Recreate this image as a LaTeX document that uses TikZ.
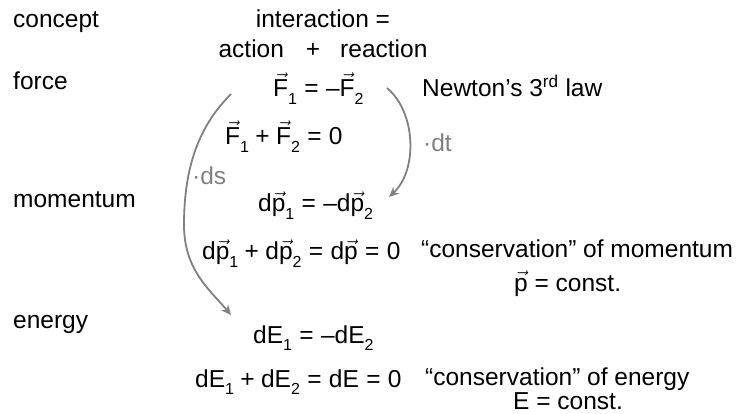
\documentclass[tikz,border=0pt]{standalone}
\usepackage{fontspec}
\setmainfont{Liberation Sans}
\usetikzlibrary{arrows.meta}
\definecolor{arrgray}{RGB}{128,128,128}
\newcommand{\vv}[1]{\smash{\ensuremath{\vec{\mbox{#1}}}}}
\newcommand{\lo}[1]{\raisebox{-0.3em}{\fontsize{16}{16}\selectfont #1}}
\newcommand{\eqq}{\hspace{0.3em}=\hspace{0.3em}}
\newcommand{\pls}{\hspace{0.26em}+\hspace{0.26em}}
\tikzset{
  txt/.style={anchor=base west, inner sep=0pt, font=\fontsize{24.5}{29}\selectfont},
  ctxt/.style={txt, anchor=base},
  lbl/.style={txt, text=arrgray},
  curvearrow/.style={draw=arrgray, line width=1.8pt, -{Stealth[length=10pt,width=9pt]}}
}
\begin{document}
\begin{tikzpicture}[x=1pt,y=-1pt]
\useasboundingbox (0,0) rectangle (742,414);
% left column
\node[txt] (concept) at (13,28) {concept};
\node[txt] (force) at (13,90) {force};
\node[txt] (momentum) at (13,208) {momentum};
\node[txt] (energy) at (13,328) {energy};
% header
\node[ctxt] (inter) at (323,28) {interaction =};
\node[ctxt] (actreact) at (323,58) {action\hspace{22pt}+\hspace{20pt}reaction};
% force
\node[txt] (f1) at (273,97) {\vv{F}\lo{1}\eqq–\vv{F}\lo{2}};
\node[txt] (newton) at (422,97) {Newton’s 3\textsuperscript{rd} law};
\node[txt] (fsum) at (225,145) {\vv{F}\lo{1}\pls\vv{F}\lo{2}\eqq0};
\node[lbl] (dt) at (423,152) {·dt};
\node[lbl] (ds) at (192,185) {·ds};
% momentum
\node[txt] (p1) at (258,212) {d\vv{p}\lo{1}\eqq–d\vv{p}\lo{2}};
\node[txt] (psum) at (202,260) {d\vv{p}\lo{1}\pls d\vv{p}\lo{2}\eqq d\vv{p}\eqq0};
\node[txt] (pcons) at (421,258) {“conservation” of momentum};
\node[txt] (pconst) at (514,291) {\vv{p} = const.};
% energy
\node[txt] (e1) at (253,343) {dE\lo{1}\eqq–dE\lo{2}};
\node[txt] (esum) at (195,387) {dE\lo{1}\pls dE\lo{2}\eqq dE\eqq0};
\node[txt] (econs) at (425,385) {“conservation” of energy};
\node[txt] (econst) at (513,409) {E = const.};
% arrows
\coordinate (dtS) at (387,88);
\coordinate (dtE) at (389,197);
\coordinate (dsS) at (231,94);
\coordinate (dsM) at (184,225);
\coordinate (dsE) at (231,315);
\draw[curvearrow] (dtS) .. controls (416,112) and (418,170) .. (dtE);
\draw[curvearrow] (dsS) .. controls (200,125) and (184,165) .. (dsM)
                  .. controls (184,270) and (210,290) .. (dsE);
\end{tikzpicture}
\end{document}
